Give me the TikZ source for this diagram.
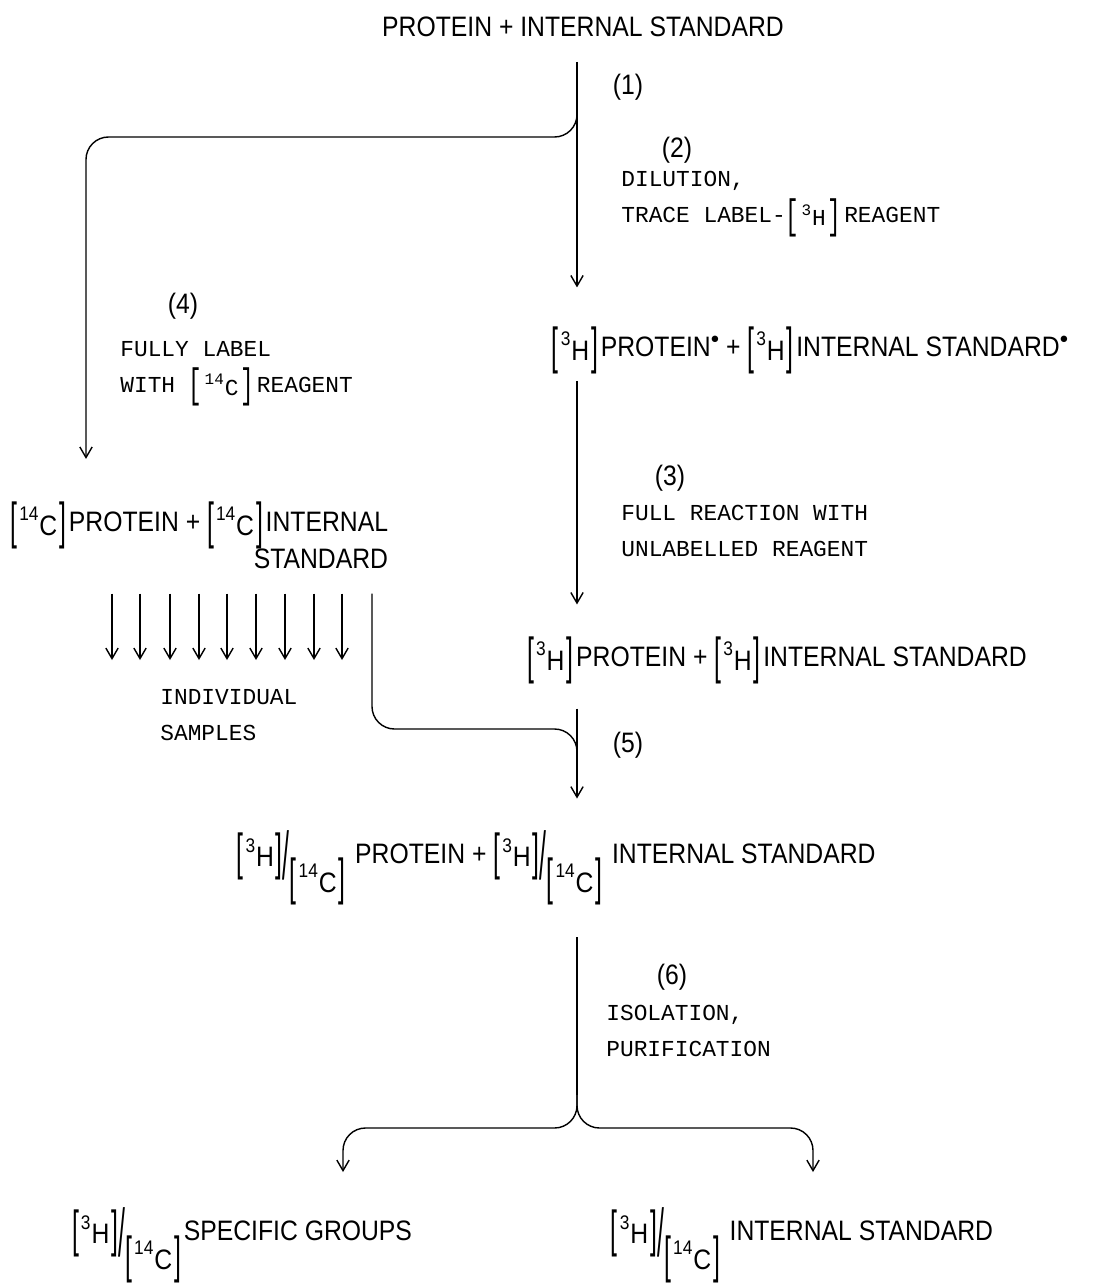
\documentclass[tikz,border=0pt]{standalone}
\usepackage{fontspec}
\setmainfont{Liberation Sans}[FakeStretch=0.88]
\newfontfamily\typefont{Liberation Mono}
\usetikzlibrary{arrows.meta}

% isotope in brackets, ratio of two labels, tag dot
\newcommand\brk[1]{\raisebox{-0.45ex}{\scalebox{1}[1.8]{#1}}}
\newcommand\iso[2]{\brk{[}\kern1.2pt\textsuperscript{#1}\raisebox{-0.25ex}{#2}\kern1.2pt\brk{]}\kern1.5pt}
\newcommand\ratio{\iso{3}{H}\kern-1.5pt\raisebox{-1.1ex}{\scalebox{1}[2.4]{/}}\raisebox{-1.7ex}{\iso{14}{C}}}
\newcommand\tagdot{\raisebox{0.9ex}{\scalebox{0.55}{$\bullet$}}}

\begin{document}
\begin{tikzpicture}[
  x=0.02cm, y=-0.02cm,
  species/.style={inner sep=0pt, font=\fontsize{16}{21}\selectfont},
  stagenum/.style={inner sep=0pt, font=\fontsize{16}{19}\selectfont},
  note/.style={inner sep=0pt, anchor=west, align=left,
    font=\typefont\fontsize{13}{20.5}\selectfont},
  arrow/.style={-{Straight Barb[length=6pt,width=7pt]}, line width=0.8pt},
  branch/.style={arrow, rounded corners=0.45cm},
]
\useasboundingbox (0,0) rectangle (1094,1284);
\coordinate (trunk) at (577,0);
\coordinate (leftcol) at (86,0);
\coordinate (mergecol) at (372,0);
\coordinate (groupcol) at (343,0);
\coordinate (stdcol) at (813,0);

\node[species] (mix) at (583,27) {PROTEIN + INTERNAL STANDARD};
\node[species] (htrace) at (810,350) {\iso{3}{H}PROTEIN\tagdot\ + \iso{3}{H}INTERNAL STANDARD\tagdot};
\node[species, anchor=west, align=right] (cfull) at (10,535) {\iso{14}{C} PROTEIN + \iso{14}{C} INTERNAL\\STANDARD};
\node[species] (hfull) at (777,660) {\iso{3}{H}PROTEIN + \iso{3}{H}INTERNAL STANDARD};
\node[species] (ratio) at (556,868) {\ratio\ PROTEIN + \ratio\ INTERNAL STANDARD};
\node[species] (groups) at (242,1245) {\ratio SPECIFIC GROUPS};
\node[species] (stdout) at (802,1245) {\ratio\ INTERNAL STANDARD};

\node[stagenum] (n1) at (628,87) {(1)};
\node[stagenum] (n2) at (677,150) {(2)};
\node[note] (t2) at (621,204) {DILUTION,\\TRACE LABEL-\iso{3}{H}REAGENT};
\node[stagenum] (n4) at (183,306) {(4)};
\node[note] (t4) at (120,374) {FULLY LABEL\\WITH \iso{14}{C} REAGENT};
\node[stagenum] (n3) at (670,478) {(3)};
\node[note] (t3) at (621,531) {FULL REACTION WITH\\UNLABELLED REAGENT};
\node[note] (t5) at (160,715) {INDIVIDUAL\\SAMPLES};
\node[stagenum] (n5) at (628,745) {(5)};
\node[stagenum] (n6) at (672,977) {(6)};
\node[note] (t6) at (606,1031) {ISOLATION,\\PURIFICATION};

% branch points on the trunk
\coordinate (split1) at (577,95);
\coordinate (join5) at (577,770);
\coordinate (split6) at (577,1095);

\draw[arrow, shorten <=14pt, shorten >=22pt] (mix.south -| trunk) -- (htrace.north -| trunk);
\draw[branch, shorten >=24pt] (split1) |- (86,137) -- (cfull.north -| leftcol);
\draw[arrow, shorten <=4pt, shorten >=18pt] (htrace.south -| trunk) -- (hfull.north -| trunk);
\foreach \x in {112,140,170,199,227,256,285,314,342} {
  \coordinate (col) at (\x,0);
  \draw[arrow, shorten <=14pt] (cfull.south -| col) -- (\x,660);
}
\draw[rounded corners=0.45cm, line width=0.8pt, shorten <=14pt] (cfull.south -| mergecol) |- (577,729) -- (join5);
\draw[arrow, shorten <=14pt, shorten >=18pt] (hfull.south -| trunk) -- (ratio.north -| trunk);
\draw[line width=0.8pt, shorten <=18pt] (ratio.south -| trunk) -- (split6);
\draw[branch, shorten >=20pt] (split6) |- (343,1128) -- (groups.north -| groupcol);
\draw[branch, shorten >=20pt] (split6) |- (813,1128) -- (stdout.north -| stdcol);
\end{tikzpicture}
\end{document}
